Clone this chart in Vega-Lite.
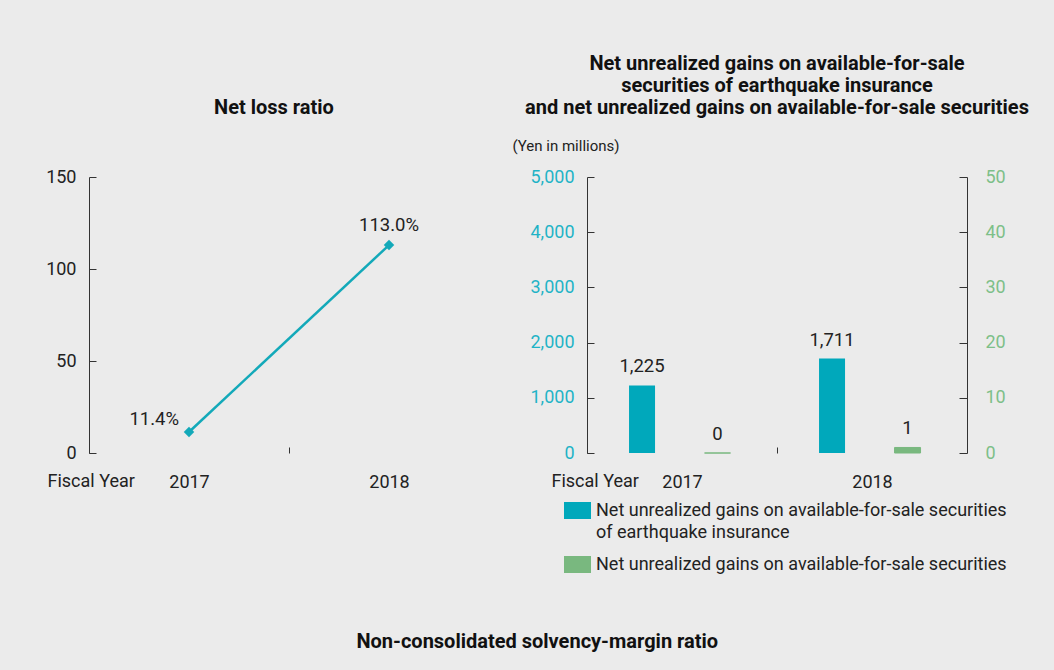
{
  "$schema": "https://vega.github.io/schema/vega-lite/v6.json",
  "background": "#ebebeb",
  "padding": {"left": 45, "top": 54, "right": 25, "bottom": 20},
  "bounds": "flush",
  "spacing": 98,
  "config": {
    "font": "Roboto",
    "view": {"stroke": null},
    "style": {"guide-label": {"lineHeight": 22}},
    "axis": {"labelFont": "Roboto", "labelFontSize": 18, "labelColor": "#222", "domainColor": "#333", "tickColor": "#333", "grid": false, "titleFont": "Roboto", "titleFontWeight": "normal", "titleColor": "#222"},
    "title": {"font": "Roboto", "fontWeight": "bold", "fontSize": 20, "color": "#111"}
  },
  "title": {"text": "Non-consolidated solvency-margin ratio", "orient": "bottom", "anchor": "middle", "offset": 58},
  "hconcat": [
    {
      "width": 400,
      "height": 276,
      "title": {"text": "Net loss ratio", "offset": 50, "dx": -15},
      "data": {"values": [
        {"year": "2017", "ratio": 11.4, "label": "11.4%"},
        {"year": "2018", "ratio": 113.0, "label": "113.0%"}
      ]},
      "encoding": {
        "x": {"field": "year", "type": "nominal", "bandPosition": 0.5,
          "scale": {"type": "band", "paddingInner": 0, "paddingOuter": 0},
          "axis": {"title": "Fiscal Year", "titleFontSize": 18, "titleAlign": "left", "titleAnchor": "start", "titleX": -42, "titleY": 28, "titleBaseline": "middle", "labelAngle": 0, "domain": false, "tickBand": "extent", "tickSize": -6, "labelPadding": 26, "tickOpacity": {"condition": {"test": "datum.value == '2018'", "value": 0}, "value": 1}}},
        "y": {"field": "ratio", "type": "quantitative", "scale": {"domain": [0, 150]},
          "axis": {"values": [0, 50, 100, 150], "title": null, "tickSize": -7, "labelPadding": 20}}
      },
      "layer": [
        {"mark": {"type": "line", "color": "#13a9b9", "strokeWidth": 2.5}},
        {"mark": {"type": "point", "shape": "diamond", "filled": true, "size": 110, "color": "#13a9b9", "opacity": 1}},
        {"transform": [{"filter": "datum.year == '2017'"}], "mark": {"type": "text", "align": "right", "baseline": "middle", "dx": -10, "dy": -13, "fontSize": 18.5, "color": "#222"}, "encoding": {"text": {"field": "label"}}},
        {"transform": [{"filter": "datum.year == '2018'"}], "mark": {"type": "text", "align": "center", "baseline": "middle", "dy": -20, "fontSize": 18.5, "color": "#222"}, "encoding": {"text": {"field": "label"}}}
      ]
    },
    {
      "width": 380,
      "height": 276,
      "title": {"text": ["Net unrealized gains on available-for-sale", "securities of earthquake insurance", "and net unrealized gains on available-for-sale securities"], "offset": 20, "lineHeight": 22},
      "data": {"values": [
        {"year": "2017", "series": "Net unrealized gains on available-for-sale securities of earthquake insurance", "value": 1225, "label": "1,225"},
        {"year": "2017", "series": "Net unrealized gains on available-for-sale securities", "value": 0, "label": "0"},
        {"year": "2018", "series": "Net unrealized gains on available-for-sale securities of earthquake insurance", "value": 1711, "label": "1,711"},
        {"year": "2018", "series": "Net unrealized gains on available-for-sale securities", "value": 1, "label": "1"}
      ]},
      "encoding": {
        "x": {"field": "year", "type": "nominal",
          "scale": {"type": "band", "paddingInner": 0, "paddingOuter": 0},
          "axis": {"title": "Fiscal Year", "titleFontSize": 18, "titleAlign": "left", "titleAnchor": "start", "titleX": -36, "titleY": 28, "titleBaseline": "middle", "labelAngle": 0, "domain": false, "tickBand": "extent", "tickSize": -6, "labelPadding": 26, "tickOpacity": {"condition": {"test": "datum.value == '2018'", "value": 0}, "value": 1}}},
        "xOffset": {"field": "series", "type": "nominal",
          "scale": {"domain": ["Net unrealized gains on available-for-sale securities of earthquake insurance", "Net unrealized gains on available-for-sale securities"], "paddingInner": 0.6556, "paddingOuter": 0.586, "align": 0.475}}
      },
      "layer": [
        {
          "transform": [{"filter": "datum.series == 'Net unrealized gains on available-for-sale securities of earthquake insurance'"}],
          "encoding": {"y": {"field": "value", "type": "quantitative", "scale": {"domain": [0, 5000]},
            "axis": {"values": [0, 1000, 2000, 3000, 4000, 5000], "format": ",d", "labelColor": "#1fb3c6", "tickSize": -7, "labelPadding": 20, "title": "(Yen in millions)", "titleFontSize": 15, "titleAngle": 0, "titleAlign": "left", "titleBaseline": "middle", "titleX": -75, "titleY": -32}}},
          "layer": [
            {"mark": {"type": "bar"},
             "encoding": {"color": {"field": "series", "type": "nominal",
               "scale": {"domain": ["Net unrealized gains on available-for-sale securities of earthquake insurance", "Net unrealized gains on available-for-sale securities"], "range": ["#00a8bb", "#79b87f"]},
               "legend": {"orient": "none", "legendX": 475, "legendY": 320, "title": null, "labelFontSize": 18, "labelColor": "#222", "labelLimit": 600, "labelOffset": 5, "rowPadding": 9, "symbolType": "M-1,-0.63H1V0.63H-1Z", "symbolSize": 729, "symbolStrokeWidth": 0, "symbolOpacity": 1,
                 "labelExpr": "datum.label == 'Net unrealized gains on available-for-sale securities of earthquake insurance' ? ['Net unrealized gains on available-for-sale securities', 'of earthquake insurance'] : datum.label"}}}},
            {"mark": {"type": "text", "baseline": "bottom", "dy": -9, "fontSize": 18.5, "color": "#222"}, "encoding": {"text": {"field": "label"}}}
          ]
        },
        {
          "transform": [{"filter": "datum.series == 'Net unrealized gains on available-for-sale securities'"}],
          "encoding": {"y": {"field": "value", "type": "quantitative", "scale": {"domain": [0, 50]},
            "axis": {"orient": "right", "values": [0, 10, 20, 30, 40, 50], "labelColor": "#7dbf88", "tickSize": -8, "labelPadding": 26, "title": null}}},
          "layer": [
            {"mark": {"type": "bar", "stroke": "#79b87f", "strokeWidth": 1},
             "encoding": {"color": {"field": "series", "type": "nominal"}}},
            {"mark": {"type": "text", "baseline": "bottom", "dy": -9, "fontSize": 18.5, "color": "#222"}, "encoding": {"text": {"field": "label"}}}
          ]
        }
      ],
      "resolve": {"scale": {"y": "independent"}}
    }
  ]
}
